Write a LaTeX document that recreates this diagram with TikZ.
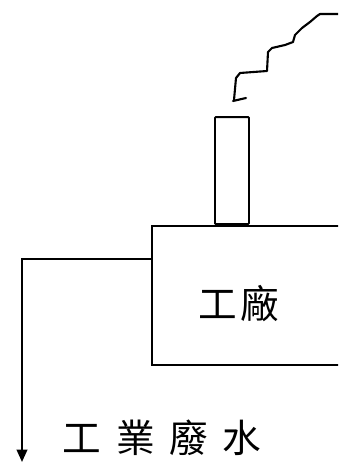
\documentclass[tikz,border=0pt]{standalone}
\usepackage{fontspec}
\newfontfamily\cjk{Noto Sans CJK TC}
\usetikzlibrary{arrows.meta}

\tikzset{
  wall/.style={draw, line width=1.1pt, inner sep=0pt},
  pipe/.style={line width=1.1pt, -{Triangle[length=7pt,width=6pt]}},
  smoke/.style={line width=1.2pt, line join=round, line cap=round},
  label/.style={font=\cjk\fontsize{22}{24}\selectfont}
}

\begin{document}
\begin{tikzpicture}[x=0.02cm, y=-0.02cm]
  \useasboundingbox (0,0) rectangle (338,463);
  \clip (0,0) rectangle (338,463);
  % factory and chimney
  \node[wall, anchor=north west, minimum width=200*0.02cm, minimum height=139*0.02cm] (plant) at (151,225) {};
  \node[wall, rounded corners=0.5pt, anchor=south west, minimum width=34*0.02cm, minimum height=107*0.02cm] (stack) at (214,225) {};
  \node[label] (plantname) at (239,304) {工\hspace{0.1em}廠};
  % smoke
  \coordinate (puff) at (233,101);
  \draw[smoke] (puff) -- (246,98) (234,100) -- (236,78) -- (240,73) -- (267,71)
    -- (268,52) -- (272,48) -- (285,45) -- (293,42) -- (295,35) -- (302,28)
    -- (310,22) -- (317,16) -- (320,14) -- (340,14);
  % waste water out of the plant
  \coordinate (outlet) at (151,259);
  \coordinate (drain) at (22,462);
  \draw[pipe] (outlet) -- (outlet -| drain) -- (drain);
  \node[label] (water) at (162,438) {工\hspace{0.38em}業\hspace{0.38em}廢\hspace{0.38em}水};
\end{tikzpicture}
\end{document}
